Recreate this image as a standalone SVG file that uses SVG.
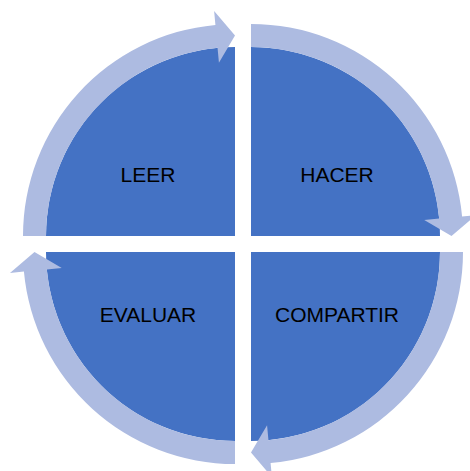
<svg xmlns="http://www.w3.org/2000/svg" width="470" height="471" viewBox="0 0 470 471">
<style>
.pie{fill:#4472C4;}
.arrow{fill:#ADBBE1;}
.lbl{font-family:"Liberation Sans",Arial,sans-serif;font-size:21px;fill:#000;text-anchor:middle;}
</style>
<rect width="470" height="471" fill="#fff"/>
<g id="leer">
<path class="pie" d="M235,236 L46,236 A189,189 0 0 1 235,47 Z"/>
<text class="lbl" x="148" y="182">LEER</text>
</g>
<g id="hacer">
<path class="pie" d="M251,236 L251,47 A189,189 0 0 1 440,236 Z"/>
<text class="lbl" x="337" y="182">HACER</text>
</g>
<g id="compartir">
<path class="pie" d="M251,252 L440,252 A189,189 0 0 1 251,441 Z"/>
<text class="lbl" x="337" y="322">COMPARTIR</text>
</g>
<g id="evaluar">
<path class="pie" d="M235,252 L235,441 A189,189 0 0 1 46,252 Z"/>
<text class="lbl" x="148" y="322">EVALUAR</text>
</g>
<g id="connectors">
<path class="arrow" d="M23,236 A212,212 0 0 1 215.42,24.91 L214.12,10.97 L235,35.5 L218.93,62.74 L217.54,47.81 A189,189 0 0 0 46,236 Z"/>
<path class="arrow" d="M251,24 A212,212 0 0 1 462.09,216.42 L476.03,215.12 L451.5,236 L424.26,219.93 L439.19,218.54 A189,189 0 0 0 251,47 Z"/>
<path class="arrow" d="M463,252 A212,212 0 0 1 270.58,463.09 L271.88,477.03 L251,452.5 L267.07,425.26 L268.46,440.19 A189,189 0 0 0 440,252 Z"/>
<path class="arrow" d="M235,464 A212,212 0 0 1 23.91,271.58 L9.97,272.88 L34.5,252 L61.74,268.07 L46.81,269.46 A189,189 0 0 0 235,441 Z"/>
</g>
</svg>
